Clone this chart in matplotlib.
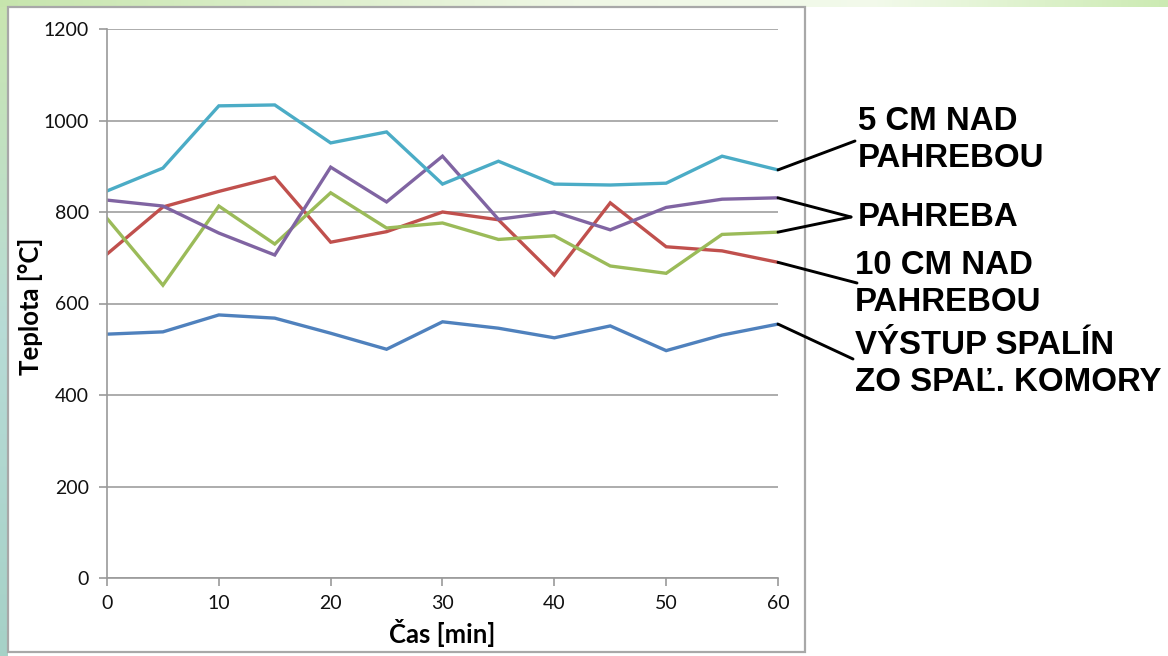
import matplotlib
matplotlib.use("Agg")
import matplotlib.pyplot as plt
import matplotlib.patches as patches
import numpy as np

# data
cas = [0, 5, 10, 15, 20, 25, 30, 35, 40, 45, 50, 55, 60]
vystup_spalin = [533, 538, 575, 568, 535, 500, 560, 546, 525, 551, 497, 531, 555]
nad_10cm = [708, 811, 845, 876, 734, 757, 800, 783, 662, 820, 724, 715, 690]
pahreba_a = [786, 640, 813, 730, 842, 765, 776, 740, 748, 682, 666, 751, 756]
pahreba_b = [826, 813, 754, 706, 898, 822, 922, 784, 800, 761, 810, 828, 831]
nad_5cm = [846, 896, 1032, 1034, 951, 975, 861, 911, 861, 859, 863, 922, 892]

series = [vystup_spalin, nad_10cm, pahreba_a, pahreba_b, nad_5cm]
colors = ['#4F81BD', '#C0504D', '#9BBB59', '#8064A2', '#4BACC6']

W, H = 1168, 656
fig = plt.figure(figsize=(W / 100, H / 100), dpi=100, facecolor='white')

# pozadie (pixelove suradnice, y smerom dole)
bg = fig.add_axes([0, 0, 1, 1], zorder=-1)
bg.set_xlim(0, W)
bg.set_ylim(H, 0)
bg.axis('off')

left_strip = np.array([[0.79, 0.90, 0.69], [0.72, 0.86, 0.84], [0.65, 0.82, 0.78]])
t = np.linspace(0, 1, 200)
col = np.empty((200, 1, 3))
for k in range(3):
    col[:, 0, k] = np.interp(t, [0, 0.5, 1], left_strip[:, k])
bg.imshow(col, extent=(0, 8, H, 0), aspect='auto', interpolation='bilinear')

top_stops = np.array([[0.78, 0.90, 0.68], [0.94, 0.97, 0.90], [0.95, 0.98, 0.92], [0.80, 0.92, 0.70]])
u = np.linspace(0, 1, 400)
row = np.empty((1, 400, 3))
for k in range(3):
    row[0, :, k] = np.interp(u, [0, 0.5, 0.75, 1], top_stops[:, k])
bg.imshow(row, extent=(0, W, 7, 0), aspect='auto', interpolation='bilinear')

bg.add_patch(patches.Rectangle((8, 7), 797, 645, facecolor='white', edgecolor='#A8A8A8', linewidth=1.6))

# graf
ax = fig.add_axes([107 / W, (H - 578) / H, 671 / W, 549 / H])
ax.set_facecolor('none')
for s, c in zip(series, colors):
    ax.plot(cas, s, color=c, linewidth=2.4, solid_joinstyle='miter')

ax.set_xlim(0, 60)
ax.set_ylim(0, 1200)
ax.set_xticks(range(0, 61, 10))
ax.set_yticks(range(0, 1201, 200))
ax.grid(axis='y', color='#A6A6A6', linewidth=1.3)
ax.set_axisbelow(True)
for side in ['top', 'right']:
    ax.spines[side].set_visible(False)
for side in ['left', 'bottom']:
    ax.spines[side].set_color('#9A9A9A')
    ax.spines[side].set_linewidth(1.2)
ax.tick_params(axis='both', direction='out', length=6, width=1.2, color='#9A9A9A',
               labelsize=14, labelcolor='#111111')
ax.tick_params(axis='y', pad=7)
ax.tick_params(axis='x', pad=6)
for lab in ax.get_xticklabels() + ax.get_yticklabels():
    lab.set_family('Lato')

ax.set_xlabel('Čas [min]', fontsize=18.5, fontweight='bold', family='Lato', va='center')
ax.xaxis.set_label_coords(0.5, (578 - 633) / 549)
ax.set_ylabel('Teplota [°C]', fontsize=18.5, fontweight='bold', family='Lato', va='center')
ax.yaxis.set_label_coords((30 - 107) / 671, (578 - 306) / 549)

# popisky s ciarami
labels = [
    ("VÝSTUP SPALÍN\nZO SPAĽ. KOMORY", 855, 364, [(vystup_spalin, 853, 359)]),
    ("10 CM NAD\nPAHREBOU", 855, 284, [(nad_10cm, 857, 283)]),
    ("PAHREBA", 858, 217, [(pahreba_b, 851, 217), (pahreba_a, 851, 217)]),
    ("5 CM NAD\nPAHREBOU", 858, 140, [(nad_5cm, 855, 141)]),
]
for text, tx, ty, leaders in labels:
    bg.text(tx, ty, text, ha='left', va='center', fontsize=23.8, fontweight='bold',
            family='Liberation Sans', color='black', linespacing=1.27)
    for s, lx, ly in leaders:
        ax.annotate('', xy=(cas[-1], s[-1]), xycoords='data', xytext=(lx, ly), textcoords=bg.transData,
                    arrowprops=dict(arrowstyle='-', color='black', linewidth=2.1, shrinkA=0, shrinkB=0),
                    annotation_clip=False)

fig.savefig('out.png', dpi=100)
